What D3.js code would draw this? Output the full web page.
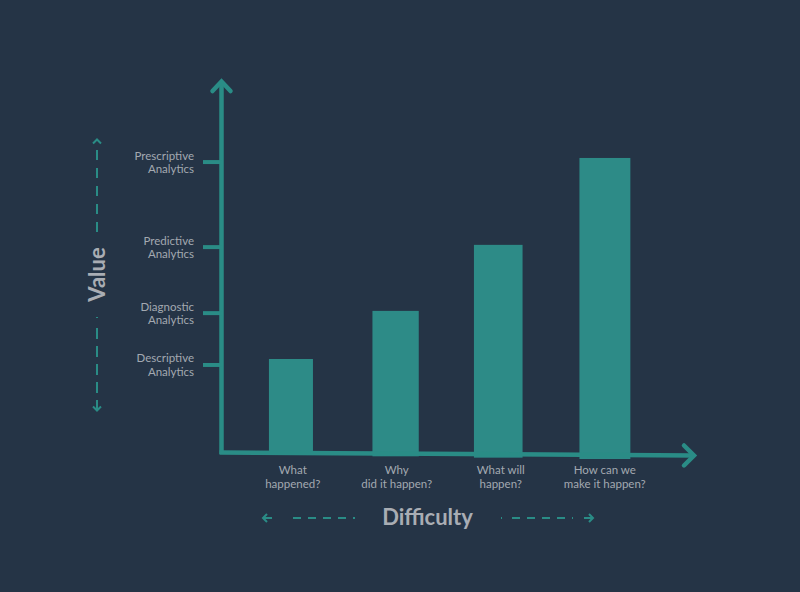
<!DOCTYPE html>
<html>
<head>
<meta charset="utf-8">
<script src="https://cdn.jsdelivr.net/npm/d3@7"></script>
<style>
  html, body { margin: 0; padding: 0; background: #253446; }
  svg { display: block; }
</style>
</head>
<body>
<svg id="chart" width="800" height="592"></svg>
<script>
// ---- data ----
const categories = [["What", "happened?"], ["Why", "did it happen?"], ["What will", "happen?"], ["How can we", "make it happen?"]];
const barValues = [25.2, 38.1, 55.8, 79.1];
const levelLabels = [["Descriptive", "Analytics"], ["Diagnostic", "Analytics"], ["Predictive", "Analytics"], ["Prescriptive", "Analytics"]];
const levelValues = [23.6, 37.5, 55.2, 78.0];
const yAxisTitle = "Value";
const xAxisTitle = "Difficulty";

// ---- styles ----
const bg = "#253446", teal = "#2d8b87", axisTeal = "#2a8c86", textGrey = "#a3a9b1", titleGrey = "#a9adb4";
const svg = d3.select("#chart");
svg.append("rect").attr("width", 800).attr("height", 592).attr("fill", bg);

const y = d3.scaleLinear().domain([0, 100]).range([453, 80]);
const x = d3.scaleBand().domain(d3.range(categories.length))
  .range([241, 655]).paddingInner(0.54).paddingOuter(0.27);
// hand-drawn baseline, slightly sloped
const baseAt = d3.scaleLinear().domain([222, 696]).range([452.5, 455.5]);
const axisX0 = 221.5, axisTipX = 694;

// bars
svg.append("g").selectAll("rect").data(barValues).join("rect")
  .attr("x", (d, i) => x(i) - (i === 2 ? 2 : 0))
  .attr("width", (d, i) => x.bandwidth() - 3.6 + i * 2.3)
  .attr("y", d => y(d))
  .attr("height", (d, i) => baseAt(x(i) + x.bandwidth() / 2) + 2 + i * 0.7 - y(d))
  .attr("fill", teal);

// y axis line + arrow
const ax = svg.append("g").attr("stroke", axisTeal).attr("fill", "none")
  .attr("stroke-width", 4.5).attr("stroke-linecap", "butt").attr("stroke-linejoin", "miter");
ax.append("line").attr("x1", axisX0).attr("x2", axisX0).attr("y1", baseAt(axisX0) + 1.5).attr("y2", y(100) + 1);
ax.append("path").attr("d", `M${axisX0 - 9},${y(100) + 11} L${axisX0},${y(100) + 1.5} L${axisX0 + 9},${y(100) + 11}`)
  .attr("stroke-linecap", "round");
// x axis line + arrow
ax.append("line").attr("x1", axisX0 - 2).attr("x2", axisTipX)
  .attr("y1", baseAt(axisX0)).attr("y2", baseAt(axisTipX));
ax.append("path").attr("d", `M${axisTipX - 10},${baseAt(axisTipX) - 10} L${axisTipX},${baseAt(axisTipX)} L${axisTipX - 10},${baseAt(axisTipX) + 10}`)
  .attr("stroke-linecap", "round");

// level ticks
ax.selectAll("line.tick").data(levelValues).join("line").attr("class", "tick")
  .attr("x1", 203).attr("x2", axisX0)
  .attr("y1", d => y(d)).attr("y2", d => y(d)).attr("stroke-width", 4);

// level labels
const font = "Lato, 'Open Sans', sans-serif";
const lv = svg.append("g").attr("font-family", font).attr("font-size", 11.5).attr("fill", textGrey).attr("text-anchor", "end");
levelLabels.forEach((lines, i) => {
  const t = lv.append("text").attr("x", 194).attr("y", y(levelValues[i]) - 2.5);
  t.append("tspan").attr("x", 194).attr("dy", "0").text(lines[0]);
  t.append("tspan").attr("x", 194).attr("dy", "13.5").text(lines[1]);
});

// category labels
const cg = svg.append("g").attr("font-family", font).attr("font-size", 11.5).attr("fill", textGrey).attr("text-anchor", "middle");
categories.forEach((lines, i) => {
  const cx = x(i) + x.bandwidth() / 2 + i * 0.5;
  const t = cg.append("text").attr("x", cx).attr("y", 474);
  t.append("tspan").attr("x", cx).attr("dy", 0).text(lines[0]);
  t.append("tspan").attr("x", cx).attr("dy", 13.5).text(lines[1]);
});

// axis titles
svg.append("text").attr("transform", "translate(104.5,274.5) rotate(-90)")
  .attr("text-anchor", "middle").attr("font-family", font).attr("font-weight", 700)
  .attr("font-size", 22).attr("fill", titleGrey).text(yAxisTitle);
svg.append("text").attr("x", 427.5).attr("y", 525)
  .attr("text-anchor", "middle").attr("font-family", font).attr("font-weight", 700)
  .attr("font-size", 22).attr("fill", titleGrey).text(xAxisTitle);

// dashed guide arrows
const dg = svg.append("g").attr("stroke", axisTeal).attr("fill", "none").attr("stroke-width", 2);
// vertical
dg.append("line").attr("x1", 97).attr("x2", 97).attr("y1", 150).attr("y2", 238).attr("stroke-dasharray", "10 8");
dg.append("line").attr("x1", 97).attr("x2", 97).attr("y1", 317).attr("y2", 318);
dg.append("line").attr("x1", 97).attr("x2", 97).attr("y1", 328).attr("y2", 402).attr("stroke-dasharray", "11 7");
dg.append("path").attr("d", "M93,143.5 L97,139.5 L101,143.5");
dg.append("path").attr("d", "M93,406.5 L97,410.5 L101,406.5");
dg.append("line").attr("x1", 97).attr("x2", 97).attr("y1", 400).attr("y2", 410);
// horizontal
dg.append("line").attr("x1", 263).attr("x2", 272).attr("y1", 518).attr("y2", 518);
dg.append("path").attr("d", "M267,514 L263,518 L267,522");
dg.append("line").attr("x1", 293).attr("x2", 355).attr("y1", 518).attr("y2", 518).attr("stroke-dasharray", "8 7");
dg.append("line").attr("x1", 501).attr("x2", 583).attr("y1", 518).attr("y2", 518).attr("stroke-dasharray", "1 10 8 7 8 7 8 7 8 7");
dg.append("line").attr("x1", 584).attr("x2", 593).attr("y1", 518).attr("y2", 518);
dg.append("path").attr("d", "M589,514 L593,518 L589,522");
</script>
</body>
</html>
